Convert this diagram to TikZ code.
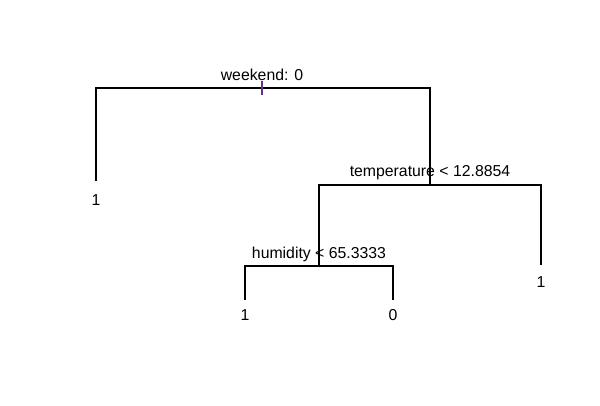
\documentclass[tikz,border=0pt]{standalone}
\usepackage{fontspec}
\setmainfont{Liberation Sans}
\usepackage{tikz}
\usetikzlibrary{positioning}

\definecolor{tickpurple}{rgb}{0.40,0.20,0.55}

\begin{document}
\begin{tikzpicture}[x=0.02cm,y=-0.02cm,
    branch/.style={draw,line width=0.6pt},
    tickmark/.style={draw=tickpurple,line width=0.6pt},
    splitlabel/.style={anchor=base,inner sep=0pt,font=\fontsize{9}{11}\selectfont},
    leaflabel/.style={anchor=base,inner sep=0pt,font=\fontsize{9}{11}\selectfont}]
  \useasboundingbox (0,0) rectangle (600,406);

  % split points
  \coordinate (wk) at (262,88);
  \coordinate (wkL) at (96,88);
  \coordinate (wkR) at (430,88);
  \coordinate (tp) at (430,185);
  \coordinate (tpL) at (319,185);
  \coordinate (tpR) at (541,185);
  \coordinate (hm) at (319,266);
  \coordinate (hmL) at (245,266);
  \coordinate (hmR) at (393,266);

  % ends of the leaf branches
  \coordinate (endA) at (96,181);
  \coordinate (endB) at (541,265);
  \coordinate (endC) at (245,300);
  \coordinate (endD) at (393,300);

  % split labels
  \node[splitlabel] (wklab) at (262,80) {weekend: 0};
  \node[splitlabel] (tplab) at (430,176) {temperature < 12.8854};
  \node[splitlabel] (hmlab) at (319,258) {humidity < 65.3333};

  % leaf labels
  \node[leaflabel] (leafA) at (96,205) {1};
  \node[leaflabel] (leafB) at (541,287) {1};
  \node[leaflabel] (leafC) at (245,320) {1};
  \node[leaflabel] (leafD) at (393,320) {0};

  % branches
  \draw[branch] (endA) -- (wkL) -- (wkR) -- (tp);
  \draw[branch] (hm) -- (tpL) -- (tpR) -- (endB);
  \draw[branch] (endC) -- (hmL) -- (hmR) -- (endD);

  \coordinate (tickTop) at (262,81);
  \coordinate (tickBot) at (262,95);
  \draw[tickmark] (tickTop) -- (tickBot);
\end{tikzpicture}
\end{document}
